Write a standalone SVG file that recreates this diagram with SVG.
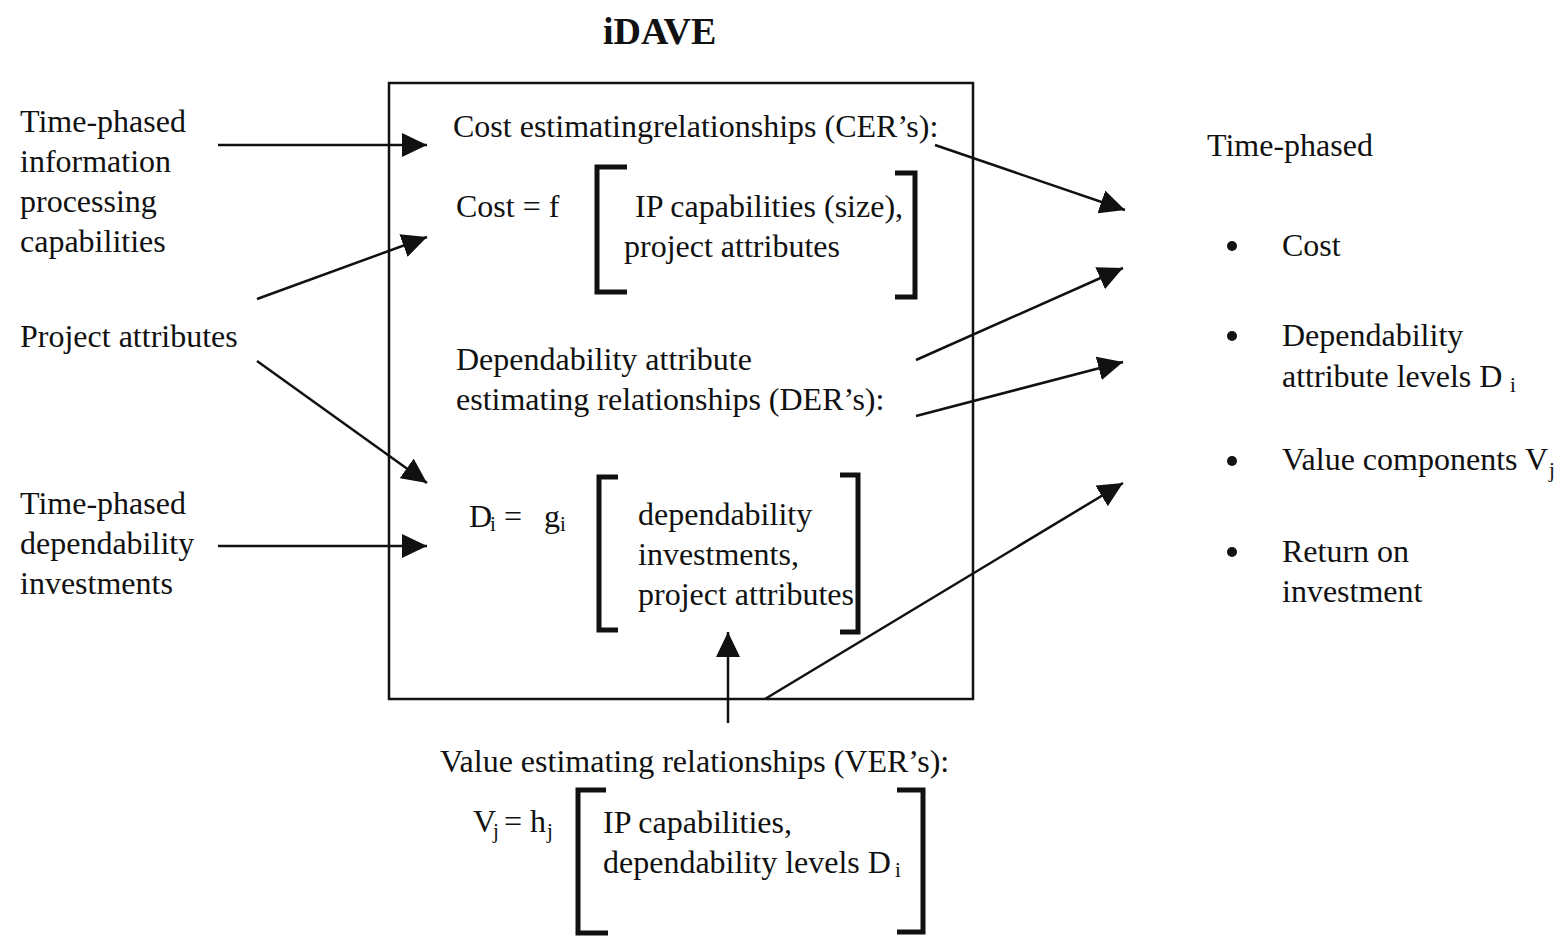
<svg xmlns="http://www.w3.org/2000/svg" width="1566" height="938" viewBox="0 0 1566 938">
<style>
text{font-family:"Liberation Serif","Times New Roman",serif;font-size:32px;fill:#111}
.title{font-weight:bold;font-size:38px}
.sub{font-size:21px}
.br{fill:none;stroke:#111;stroke-width:5}
.ln{stroke:#111;stroke-width:2.5;fill:none}
</style>
<defs>
<marker id="ah" markerUnits="userSpaceOnUse" markerWidth="26" markerHeight="24" refX="25" refY="12" orient="auto">
<path d="M0,0 L25,12 L0,24 z" fill="#111"/>
</marker>
</defs>
<rect width="1566" height="938" fill="#fff"/>
<g id="title"><text class="title" x="603" y="44">iDAVE</text></g>
<g id="idave-box"><rect x="389" y="83" width="584" height="616" fill="none" stroke="#111" stroke-width="2.5"/></g>
<g id="in-ip">
<text x="20" y="132">Time-phased</text>
<text x="20" y="172">information</text>
<text x="20" y="212">processing</text>
<text x="20" y="252">capabilities</text>
</g>
<g id="in-attr"><text x="20" y="347">Project attributes</text></g>
<g id="in-dep">
<text x="20" y="514">Time-phased</text>
<text x="20" y="554">dependability</text>
<text x="20" y="594">investments</text>
</g>
<g id="cer">
<text x="453" y="137">Cost estimatingrelationships (CER’s):</text>
<text x="456" y="217">Cost = f</text>
<path class="br" d="M627,167 L597,167 L597,292 L627,292"/>
<path class="br" d="M895,173 L915,173 L915,297 L895,297"/>
<text x="635" y="217">IP capabilities (size),</text>
<text x="624" y="257">project attributes</text>
</g>
<g id="der">
<text x="456" y="370">Dependability attribute</text>
<text x="456" y="410">estimating relationships (DER’s):</text>
<text x="469" y="527">D</text><text class="sub" x="490" y="531">i</text>
<text x="504" y="527">=</text>
<text x="544" y="527">g</text><text class="sub" x="560" y="531">i</text>
<path class="br" d="M618,477 L599,477 L599,630 L618,630"/>
<path class="br" d="M840,475 L858,475 L858,632 L840,632"/>
<text x="638" y="525">dependability</text>
<text x="638" y="565">investments,</text>
<text x="638" y="605">project attributes</text>
</g>
<g id="ver">
<text x="440" y="772">Value estimating relationships (VER’s):</text>
<text x="473" y="832">V</text><text class="sub" x="493" y="838">j</text>
<text x="504" y="832">= h</text><text class="sub" x="547" y="838">j</text>
<path class="br" d="M606,790 L578,790 L578,933 L608,933"/>
<path class="br" d="M897,790 L923,790 L923,932 L897,932"/>
<text x="603" y="833">IP capabilities,</text>
<text x="603" y="873">dependability levels D</text><text class="sub" x="895" y="877">i</text>
</g>
<g id="outputs">
<text x="1207" y="156">Time-phased</text>
<circle cx="1232" cy="246" r="5" fill="#111"/>
<text x="1282" y="256">Cost</text>
<circle cx="1232" cy="336" r="5" fill="#111"/>
<text x="1282" y="346">Dependability</text>
<text x="1282" y="387">attribute levels D</text><text class="sub" x="1510" y="392">i</text>
<circle cx="1232" cy="461" r="5" fill="#111"/>
<text x="1282" y="470">Value components V</text><text class="sub" x="1549" y="477">j</text>
<circle cx="1232" cy="552" r="5" fill="#111"/>
<text x="1282" y="562">Return on</text>
<text x="1282" y="602">investment</text>
</g>
<g id="connectors">
<line class="ln" x1="218" y1="145" x2="427" y2="145" marker-end="url(#ah)"/>
<line class="ln" x1="257" y1="299" x2="427" y2="237" marker-end="url(#ah)"/>
<line class="ln" x1="257" y1="361" x2="427" y2="483" marker-end="url(#ah)"/>
<line class="ln" x1="218" y1="546" x2="427" y2="546" marker-end="url(#ah)"/>
<line class="ln" x1="935" y1="145" x2="1125" y2="210" marker-end="url(#ah)"/>
<line class="ln" x1="916" y1="360" x2="1123" y2="268" marker-end="url(#ah)"/>
<line class="ln" x1="916" y1="416" x2="1123" y2="362" marker-end="url(#ah)"/>
<line class="ln" x1="765" y1="699" x2="1123" y2="483" marker-end="url(#ah)"/>
<line class="ln" x1="728" y1="723" x2="728" y2="632" marker-end="url(#ah)"/>
</g>
</svg>
